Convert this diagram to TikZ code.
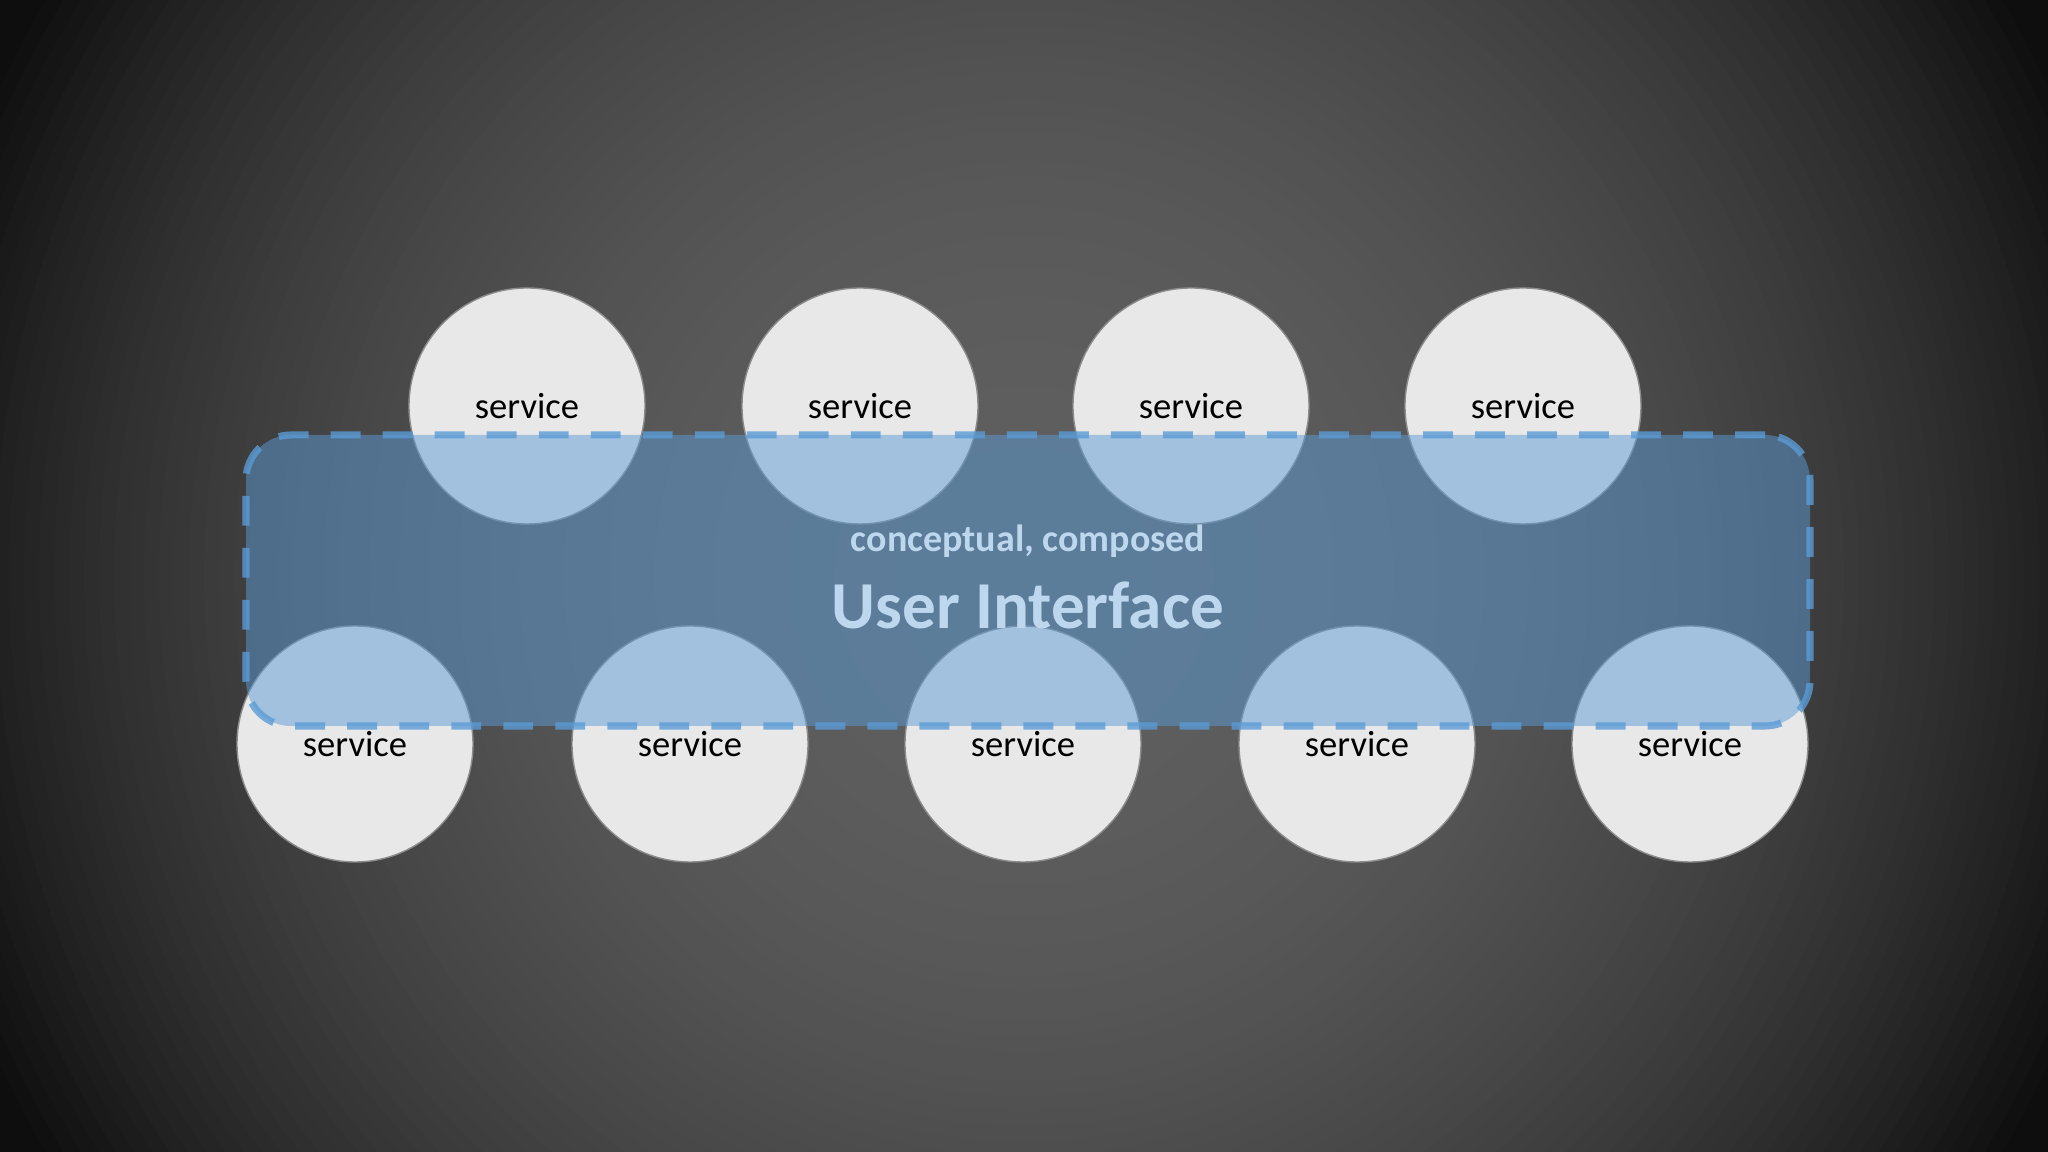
\documentclass[tikz,border=0pt]{standalone}
\usepackage{fontspec}
\setmainfont{Carlito}

\definecolor{bgcorner}{HTML}{0E0E0E}
\definecolor{svcfill}{HTML}{E8E8E8}
\definecolor{svcline}{HTML}{8C8C8C}
\definecolor{uiblue}{HTML}{5B9BD5}
\definecolor{uitext}{HTML}{BDD7EE}

\begin{document}
\begin{tikzpicture}[
    svc/.style = {circle, fill=svcfill, draw=svcline, line width=0.4pt,
              minimum size=2.36cm, inner sep=0pt, outer sep=0pt,
              font=\fontsize{10.4}{12}\selectfont},
    uibox/.style = {rectangle, rounded corners=0.45cm, fill=uiblue,
              fill opacity=0.5, draw=uiblue, draw opacity=0.8,
              line width=2pt, dash pattern=on 8.5pt off 6.3pt,
              minimum width=15.64cm, minimum height=2.91cm,
              inner sep=0pt},
    uilabel/.style = {text=uitext, font=\bfseries, inner sep=0pt},
    ]

\useasboundingbox (0,0) rectangle (20.48,11.52);
\coordinate (bg_center) at (10.24,5.76);

% background, darker towards the corners
\begin{scope}
\clip (0,0) rectangle (20.48,11.52);
\fill[bgcorner] (0,0) rectangle (20.48,11.52);
\foreach \r in {11.8,11.65,...,0.1}{
  \pgfmathtruncatemacro{\g}{max(14, 96 - 0.4759*\r*\r - 0.0011*\r*\r*\r*\r)}
  \fill[fill={rgb,255:red,\g;green,\g;blue,\g}] (bg_center) circle (\r);
}
\end{scope}

% top row
\node[svc] (svc_1) at (5.27,7.46){service};
\node[svc] (svc_2) at (8.60,7.46){service};
\node[svc] (svc_3) at (11.91,7.46){service};
\node[svc] (svc_4) at (15.23,7.46){service};

% bottom row
\node[svc] (svc_5) at (3.55,4.08){service};
\node[svc] (svc_6) at (6.90,4.08){service};
\node[svc] (svc_7) at (10.23,4.08){service};
\node[svc] (svc_8) at (13.57,4.08){service};
\node[svc] (svc_9) at (16.90,4.08){service};

\node[uibox] (ui_box) at (10.28,5.715){};

\node[uilabel, font=\bfseries\fontsize{10.8}{13}\selectfont] (ui_sub) at (10.28,6.11){conceptual, composed};
\node[uilabel, font=\bfseries\fontsize{19.1}{23}\selectfont] (ui_title) at (10.28,5.47){User Interface};

\end{tikzpicture}
\end{document}
